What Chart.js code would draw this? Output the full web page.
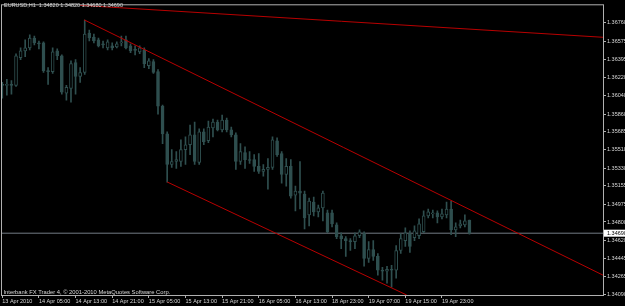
<!DOCTYPE html>
<html>
<head>
<meta charset="utf-8">
<script src="https://cdn.jsdelivr.net/npm/chart.js@4.4.1/dist/chart.umd.min.js"></script>
<style>
  html, body { margin: 0; padding: 0; background: #000; }
  canvas { display: block; }
</style>
</head>
<body>
<canvas id="chart" width="625" height="306"></canvas>
<script>
const symbolTitle = 'EURUSD,H1  1.34820 1.34820 1.34680 1.34690';
const copyright   = 'Interbank FX Trader 4, © 2001-2010 MetaQuotes Software Corp.';

// time axis (H1 bars, label every 8 bars)
const xTickBars   = [0, 8, 16, 24, 32, 40, 48, 56, 64, 72, 80, 88, 96];
const xTickLabels = ['13 Apr 2010', '14 Apr 05:00', '14 Apr 13:00', '14 Apr 21:00', '15 Apr 05:00',
                     '15 Apr 13:00', '15 Apr 21:00', '16 Apr 05:00', '16 Apr 13:00', '18 Apr 23:00',
                     '19 Apr 07:00', '19 Apr 15:00', '19 Apr 23:00'];

const yTickLabels = ['1.36760', '1.36575', '1.36395', '1.36220', '1.36040', '1.35860', '1.35685', '1.35510',
                     '1.35330', '1.35155', '1.34975', '1.34800', '1.34620', '1.34445', '1.34265', '1.34090'];

const opens = [
  1.36152, 1.36142, 1.36152, 1.36142, 1.36413, 1.36481, 1.36510, 1.36607, 1.36559, 1.36559,
  1.36287, 1.36277, 1.36481, 1.36433, 1.36065, 1.36113, 1.36365, 1.36229, 1.36268, 1.36656,
  1.36617, 1.36588, 1.36549, 1.36510, 1.36530, 1.36520, 1.36559, 1.36588, 1.36530, 1.36491,
  1.36471, 1.36491, 1.36336, 1.36375, 1.36277, 1.35938, 1.35666, 1.35365, 1.35394, 1.35394,
  1.35510, 1.35559, 1.35656, 1.35384, 1.35685, 1.35598, 1.35724, 1.35782, 1.35704, 1.35801,
  1.35704, 1.35656, 1.35394, 1.35481, 1.35413, 1.35413, 1.35346, 1.35297, 1.35316, 1.35336,
  1.35598, 1.35472, 1.35268, 1.35346, 1.35064, 1.35103, 1.35074, 1.34870, 1.34996, 1.34899,
  1.34938, 1.34889, 1.34889, 1.34772, 1.34665, 1.34636, 1.34617, 1.34607, 1.34665, 1.34685,
  1.34442, 1.34530, 1.34462, 1.34326, 1.34316, 1.34336, 1.34326, 1.34520, 1.34617, 1.34685,
  1.34646, 1.34665, 1.34704, 1.34860, 1.34879, 1.34889, 1.34850, 1.34870, 1.34928, 1.34723,
  1.34762, 1.34772, 1.34820
];
const highs = [
  1.36171, 1.36200, 1.36190, 1.36452, 1.36510, 1.36588, 1.36637, 1.36627, 1.36578, 1.36569,
  1.36316, 1.36510, 1.36501, 1.36442, 1.36142, 1.36384, 1.36394, 1.36316, 1.36782, 1.36685,
  1.36646, 1.36607, 1.36578, 1.36588, 1.36559, 1.36569, 1.36627, 1.36627, 1.36549, 1.36530,
  1.36530, 1.36510, 1.36404, 1.36394, 1.36297, 1.35948, 1.35685, 1.35510, 1.35491, 1.35607,
  1.35636, 1.35753, 1.35782, 1.35714, 1.35714, 1.35792, 1.35811, 1.35801, 1.35850, 1.35821,
  1.35733, 1.35675, 1.35569, 1.35539, 1.35491, 1.35462, 1.35472, 1.35365, 1.35423, 1.35636,
  1.35627, 1.35491, 1.35423, 1.35413, 1.35152, 1.35394, 1.35103, 1.35035, 1.35045, 1.34967,
  1.35103, 1.34918, 1.34918, 1.34791, 1.34694, 1.34656, 1.34636, 1.34694, 1.34723, 1.34704,
  1.34607, 1.34617, 1.34491, 1.34355, 1.34365, 1.34375, 1.34568, 1.34685, 1.34743, 1.34714,
  1.34762, 1.34830, 1.34909, 1.34928, 1.34918, 1.34909, 1.34928, 1.34996, 1.35006, 1.34791,
  1.34820, 1.34870, 1.34820
];
const lows = [
  1.36016, 1.36045, 1.36055, 1.36132, 1.36394, 1.36423, 1.36491, 1.36540, 1.36501, 1.36268,
  1.36152, 1.36258, 1.36394, 1.36055, 1.35996, 1.35977, 1.36055, 1.36171, 1.36249, 1.36578,
  1.36559, 1.36520, 1.36510, 1.36491, 1.36491, 1.36510, 1.36530, 1.36501, 1.36462, 1.36442,
  1.36452, 1.36316, 1.36307, 1.36258, 1.35860, 1.35569, 1.35190, 1.35336, 1.35326, 1.35346,
  1.35365, 1.35462, 1.35365, 1.35365, 1.35559, 1.35578, 1.35636, 1.35695, 1.35685, 1.35685,
  1.35636, 1.35316, 1.35365, 1.35326, 1.35375, 1.35297, 1.35278, 1.35249, 1.35122, 1.35316,
  1.35443, 1.35181, 1.35152, 1.35035, 1.34909, 1.34928, 1.34733, 1.34762, 1.34860, 1.34850,
  1.34811, 1.34694, 1.34752, 1.34636, 1.34539, 1.34462, 1.34520, 1.34539, 1.34646, 1.34365,
  1.34404, 1.34423, 1.34277, 1.34229, 1.34200, 1.34161, 1.34249, 1.34491, 1.34559, 1.34501,
  1.34617, 1.34636, 1.34694, 1.34840, 1.34840, 1.34791, 1.34830, 1.34840, 1.34675, 1.34656,
  1.34743, 1.34752, 1.34680
];
const closes = [
  1.36142, 1.36152, 1.36142, 1.36433, 1.36481, 1.36510, 1.36607, 1.36559, 1.36549, 1.36287,
  1.36277, 1.36472, 1.36433, 1.36074, 1.36122, 1.36355, 1.36229, 1.36268, 1.36646, 1.36607,
  1.36578, 1.36530, 1.36540, 1.36569, 1.36510, 1.36549, 1.36569, 1.36510, 1.36481, 1.36486,
  1.36510, 1.36355, 1.36384, 1.36268, 1.35938, 1.35666, 1.35365, 1.35394, 1.35413, 1.35510,
  1.35559, 1.35656, 1.35394, 1.35685, 1.35588, 1.35733, 1.35782, 1.35704, 1.35801, 1.35704,
  1.35656, 1.35394, 1.35491, 1.35413, 1.35404, 1.35346, 1.35297, 1.35316, 1.35336, 1.35607,
  1.35462, 1.35268, 1.35346, 1.35054, 1.35103, 1.35084, 1.34840, 1.35006, 1.34899, 1.34938,
  1.35084, 1.34704, 1.34782, 1.34656, 1.34636, 1.34617, 1.34607, 1.34665, 1.34704, 1.34442,
  1.34530, 1.34462, 1.34326, 1.34316, 1.34336, 1.34326, 1.34520, 1.34636, 1.34694, 1.34559,
  1.34714, 1.34782, 1.34860, 1.34899, 1.34889, 1.34850, 1.34879, 1.34928, 1.34723, 1.34752,
  1.34782, 1.34811, 1.34690
];

const bidPrice = 1.34690;

// drawn objects: bar index / price
const trendTop     = [{ x: 17.0, y: 1.36928 }, { x: 131.2, y: 1.36614 }];
const channelUpper = [{ x: 17.9, y: 1.36785 }, { x: 131.2, y: 1.34277 }];
const channelLower = [{ x: 36.0, y: 1.35193 }, { x: 88.3, y: 1.34083 }];

const X_MIN = -0.28, X_MAX = 131.16;
const Y_MIN = 1.34083, Y_MAX = 1.36938;

const candleColor = '#2f4f4f';
const lineRed     = '#b80000';
const frameColor  = '#b0b0b0';
const textColor   = '#d8d8d8';
const FONT        = 'Liberation Sans';

const wickData = lows.map((l, i) => ({ x: i, y: [l, highs[i]] }));
const bodyData = opens.map((o, i) => ({ x: i, y: [o, closes[i]] }));
const bodyFill = opens.map((o, i) => closes[i] >= o ? '#000000' : candleColor);

// frame, header texts and bid price box
const mt4Overlay = {
  id: 'mt4Overlay',
  afterDraw(chart) {
    const { ctx, chartArea: ca, scales } = chart;
    ctx.save();
    ctx.strokeStyle = frameColor;
    ctx.lineWidth = 1;
    ctx.strokeRect(ca.left + 0.5, ca.top + 0.5, ca.width, ca.height);

    ctx.fillStyle = textColor;
    ctx.textAlign = 'left';
    ctx.font = `5.5px "${FONT}"`;
    ctx.textBaseline = 'top';
    ctx.fillText(symbolTitle, 4, 3);
    ctx.font = `5.8px "${FONT}"`;
    ctx.textBaseline = 'alphabetic';
    ctx.fillText(copyright, 3.5, 293.5);

    const y = scales.y.getPixelForValue(bidPrice);
    ctx.font = `5.5px "${FONT}"`;
    ctx.fillStyle = '#ffffff';
    ctx.fillRect(ca.right + 1, y - 3.5, 22, 7);
    ctx.fillStyle = '#000000';
    ctx.textBaseline = 'middle';
    ctx.fillText(bidPrice.toFixed(5), ca.right + 4, y);
    ctx.restore();
  }
};

new Chart(document.getElementById('chart').getContext('2d'), {
  type: 'bar',
  data: {
    datasets: [
      {
        type: 'line',
        data: [{ x: X_MIN, y: bidPrice }, { x: X_MAX, y: bidPrice }],
        borderColor: '#737b84',
        borderWidth: 1,
        pointRadius: 0,
        order: 5
      },
      {
        label: 'wicks',
        data: wickData,
        backgroundColor: candleColor,
        barThickness: 1,
        grouped: false,
        order: 4
      },
      {
        label: 'bodies',
        data: bodyData,
        backgroundColor: bodyFill,
        borderColor: candleColor,
        borderWidth: 1,
        borderSkipped: false,
        barThickness: 3,
        minBarLength: 1,
        grouped: false,
        order: 3
      },
      { type: 'line', data: trendTop,     borderColor: lineRed, borderWidth: 1, pointRadius: 0, order: 1 },
      { type: 'line', data: channelUpper, borderColor: lineRed, borderWidth: 1, pointRadius: 0, order: 1 },
      { type: 'line', data: channelLower, borderColor: lineRed, borderWidth: 1, pointRadius: 0, order: 1 }
    ]
  },
  options: {
    responsive: false,
    animation: false,
    events: [],
    layout: { padding: { top: 1, left: 1, right: 0, bottom: 0 } },
    plugins: { legend: { display: false }, tooltip: { enabled: false } },
    scales: {
      x: {
        type: 'linear',
        min: X_MIN,
        max: X_MAX,
        offset: false,
        afterFit: s => { s.height = 11; },
        afterBuildTicks: s => { s.ticks = xTickBars.map(v => ({ value: v })); },
        grid: { drawOnChartArea: false, drawTicks: true, tickLength: 3, tickColor: frameColor, offset: false },
        border: { display: false },
        ticks: {
          autoSkip: false, maxRotation: 0, minRotation: 0, align: 'start', padding: 0,
          color: textColor, font: { family: FONT, size: 5.5 },
          callback: (v, i) => xTickLabels[i]
        }
      },
      y: {
        type: 'linear',
        position: 'right',
        min: Y_MIN,
        max: Y_MAX,
        afterFit: s => { s.width = 22; },
        afterBuildTicks: s => { s.ticks = yTickLabels.map(t => ({ value: parseFloat(t) })); },
        grid: { drawOnChartArea: false, drawTicks: true, tickLength: 3, tickColor: frameColor },
        border: { display: false },
        ticks: {
          padding: 1, color: textColor, font: { family: FONT, size: 5.5 },
          callback: (v, i) => yTickLabels[i]
        }
      }
    }
  },
  plugins: [mt4Overlay]
});
</script>
</body>
</html>
